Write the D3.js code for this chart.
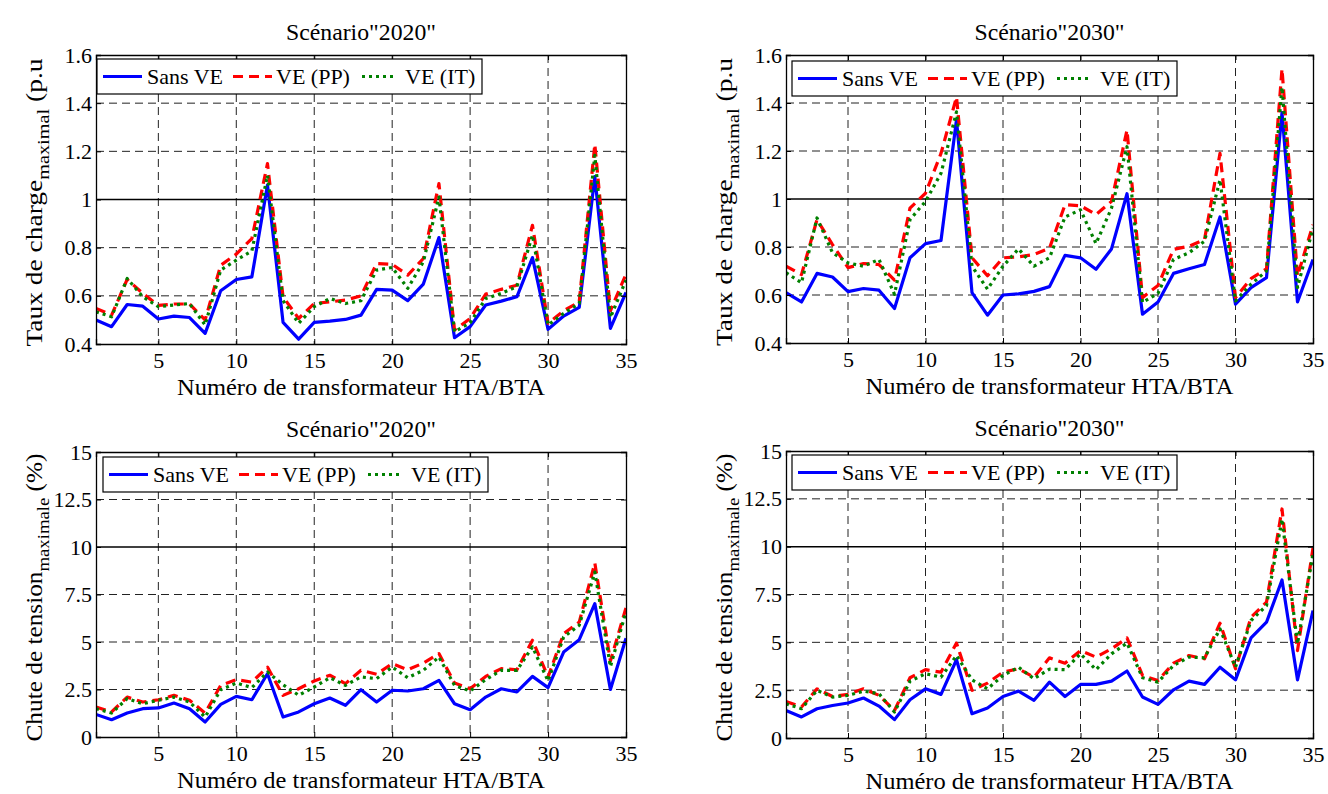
<!DOCTYPE html>
<html><head><meta charset="utf-8">
<script src="https://cdn.jsdelivr.net/npm/d3@7"></script>
<style>
body{margin:0;background:#fff;}
svg{display:block;}
text{font-family:"Liberation Serif","Times New Roman",serif;fill:#000;}
</style></head>
<body>
<svg id="c" width="1328" height="794"></svg>
<script>
// ---------- data ----------
const transformateurs = [1,2,3,4,5,6,7,8,9,10,11,12,13,14,15,16,17,18,19,20,21,22,23,24,25,26,27,28,29,30,31,32,33,34,35];
const seriesNames = ["Sans VE","VE (PP)","VE (IT)"];
const titles = ['Scénario"2020"','Scénario"2030"','Scénario"2020"','Scénario"2030"'];
const xLabel = "Numéro de transformateur HTA/BTA";
const xTicks = [5,10,15,20,25,30,35];
const chargeTicks = [0.4,0.6,0.8,1,1.2,1.4,1.6];
const chargeTickLabels = ["0.4","0.6","0.8","1","1.2","1.4","1.6"];
const chuteTicks = [0,2.5,5,7.5,10,12.5,15];
const chuteTickLabels = ["0","2.5","5","7.5","10","12.5","15"];

const charge2020_sans = [0.50,0.472,0.564,0.557,0.504,0.516,0.51,0.444,0.621,0.668,0.679,1.06,0.49,0.42,0.49,0.495,0.502,0.52,0.627,0.624,0.58,0.649,0.842,0.426,0.472,0.562,0.578,0.596,0.759,0.461,0.516,0.552,1.095,0.465,0.614];
const charge2020_pp   = [0.548,0.52,0.668,0.61,0.56,0.566,0.566,0.50,0.727,0.773,0.838,1.149,0.596,0.506,0.568,0.575,0.582,0.60,0.734,0.731,0.686,0.755,1.066,0.458,0.506,0.607,0.627,0.644,0.893,0.486,0.538,0.575,1.229,0.538,0.69];
const charge2020_it   = [0.534,0.513,0.672,0.596,0.555,0.562,0.568,0.479,0.707,0.748,0.787,1.10,0.58,0.486,0.555,0.589,0.568,0.58,0.707,0.718,0.631,0.741,1.01,0.451,0.488,0.589,0.61,0.638,0.852,0.479,0.527,0.568,1.183,0.51,0.665];

const charge2030_sans = [0.61,0.571,0.69,0.675,0.614,0.627,0.62,0.544,0.755,0.814,0.827,1.33,0.61,0.516,0.60,0.605,0.615,0.635,0.765,0.755,0.707,0.792,1.022,0.52,0.571,0.69,0.709,0.727,0.925,0.562,0.631,0.672,1.36,0.571,0.748];
const charge2030_pp   = [0.72,0.685,0.914,0.81,0.714,0.731,0.727,0.662,0.962,1.024,1.19,1.425,0.755,0.68,0.755,0.759,0.769,0.795,0.976,0.972,0.935,0.99,1.287,0.589,0.64,0.79,0.803,0.831,1.19,0.589,0.668,0.709,1.542,0.679,0.893];
const charge2030_it   = [0.693,0.651,0.921,0.776,0.734,0.72,0.748,0.603,0.914,0.99,1.107,1.363,0.72,0.624,0.72,0.792,0.72,0.755,0.925,0.955,0.814,0.962,1.218,0.569,0.607,0.748,0.776,0.824,1.08,0.575,0.645,0.70,1.466,0.631,0.879];

const chute2020_sans = [1.19,0.91,1.26,1.49,1.53,1.79,1.49,0.79,1.72,2.14,1.96,3.33,1.05,1.32,1.75,2.05,1.67,2.49,1.84,2.46,2.42,2.54,2.98,1.75,1.44,2.1,2.54,2.37,3.19,2.6,4.47,5.12,7.02,2.5,5.2];
const chute2020_pp   = [1.58,1.32,2.1,1.84,1.96,2.19,1.93,1.26,2.72,3.02,2.89,3.68,2.19,2.54,2.95,3.25,2.81,3.51,3.3,3.86,3.54,3.89,4.39,2.84,2.54,3.19,3.6,3.54,5.09,3.16,5.44,6.05,9.16,4.0,6.8];
const chute2020_it   = [1.49,1.26,2.02,1.75,1.93,2.1,1.84,1.05,2.49,2.84,2.6,3.42,2.75,2.2,2.63,3.12,2.72,3.16,3.07,3.68,3.12,3.51,4.21,2.72,2.42,3.02,3.51,3.51,4.74,2.95,5.26,5.88,8.68,3.7,6.6];

const chute2030_sans = [1.44,1.1,1.53,1.7,1.83,2.09,1.67,0.96,2.0,2.57,2.28,4.09,1.27,1.57,2.17,2.45,1.97,2.92,2.17,2.8,2.8,2.97,3.5,2.14,1.76,2.52,2.97,2.8,3.7,3.04,5.23,6.05,8.26,3.04,6.66];
const chute2030_pp   = [1.91,1.62,2.57,2.17,2.28,2.57,2.23,1.44,3.15,3.57,3.44,4.96,2.49,2.87,3.44,3.62,3.18,4.19,3.91,4.57,4.23,4.66,5.23,3.27,3.0,3.91,4.31,4.14,6.0,3.62,6.31,7.1,11.97,4.57,9.93];
const chute2030_it   = [1.79,1.53,2.49,2.14,2.23,2.45,2.31,1.36,2.97,3.36,3.18,4.31,3.04,2.57,3.27,3.7,3.1,3.6,3.57,4.4,3.57,4.4,4.96,3.15,2.92,3.79,4.23,4.19,5.7,3.7,6.14,6.92,11.44,4.92,9.62];

// ---------- layout ----------
const svg = d3.select("#c");
const colors = ["#0000ff","#ff0000","#008000"];
const dashes = [null,"10,6","3,4"];

const panels = [
  {x0:96, x1:626, y0:55, y1:344, dom:[0.4,1.6], ticks:chargeTicks, labels:chargeTickLabels, ref:1,
   data:[charge2020_sans,charge2020_pp,charge2020_it], title:titles[0], ylab:["Taux de charge","maximal"," (p.u"], leg:[97,59]},
  {x0:786, x1:1313, y0:55, y1:343, dom:[0.4,1.6], ticks:chargeTicks, labels:chargeTickLabels, ref:1,
   data:[charge2030_sans,charge2030_pp,charge2030_it], title:titles[1], ylab:["Taux de charge","maximal"," (p.u"], leg:[792,61]},
  {x0:96, x1:626, y0:452, y1:737, dom:[0,15], ticks:chuteTicks, labels:chuteTickLabels, ref:10,
   data:[chute2020_sans,chute2020_pp,chute2020_it], title:titles[2], ylab:["Chute de tension","maximale"," (%)"], leg:[103,457]},
  {x0:786, x1:1313, y0:451, y1:738, dom:[0,15], ticks:chuteTicks, labels:chuteTickLabels, ref:10,
   data:[chute2030_sans,chute2030_pp,chute2030_it], title:titles[3], ylab:["Chute de tension","maximale"," (%)"], leg:[792,455]}
];

panels.forEach((p,pi)=>{
  const g = svg.append("g");
  const x = d3.scaleLinear().domain([1,35]).range([p.x0,p.x1]);
  const y = d3.scaleLinear().domain(p.dom).range([p.y1,p.y0]);
  const clipId = "clip"+pi;
  svg.append("clipPath").attr("id",clipId).append("rect")
    .attr("x",p.x0).attr("y",p.y0).attr("width",p.x1-p.x0).attr("height",p.y1-p.y0);

  // grid
  const grid = g.append("g").attr("stroke","#222").attr("stroke-width",1).attr("stroke-dasharray","8,5");
  xTicks.filter(t=>t<35).forEach(t=>{
    grid.append("line").attr("x1",x(t)).attr("x2",x(t)).attr("y1",p.y0).attr("y2",p.y1);
  });
  p.ticks.filter((t,i)=>i>0 && i<p.ticks.length-1 && t!==p.ref).forEach(t=>{
    grid.append("line").attr("x1",p.x0).attr("x2",p.x1).attr("y1",y(t)).attr("y2",y(t));
  });
  // reference line
  g.append("line").attr("x1",p.x0).attr("x2",p.x1).attr("y1",y(p.ref)).attr("y2",y(p.ref))
    .attr("stroke","#000").attr("stroke-width",1.5);

  // series
  const line = d3.line().x((d,i)=>x(transformateurs[i])).y(d=>y(d));
  p.data.forEach((arr,si)=>{
    g.append("path").datum(arr).attr("d",line).attr("fill","none")
      .attr("clip-path","url(#"+clipId+")")
      .attr("stroke",colors[si]).attr("stroke-width",3.2)
      .attr("stroke-linejoin","round")
      .attr("stroke-dasharray",dashes[si]);
  });

  // axes (inward ticks, MATLAB box)
  const ax = g.append("g").attr("transform",`translate(0,${p.y1})`)
    .call(d3.axisBottom(x).tickValues(xTicks).tickSize(-5).tickPadding(9).tickFormat(d3.format("d")));
  const axT = g.append("g").attr("transform",`translate(0,${p.y0})`)
    .call(d3.axisTop(x).tickValues(xTicks).tickSize(-5).tickFormat(""));
  const ay = g.append("g").attr("transform",`translate(${p.x0},0)`)
    .call(d3.axisLeft(y).tickValues(p.ticks).tickSize(-5).tickPadding(4).tickFormat((d,i)=>p.labels[i]));
  const ayR = g.append("g").attr("transform",`translate(${p.x1},0)`)
    .call(d3.axisRight(y).tickValues(p.ticks).tickSize(-5).tickFormat(""));
  [ax,axT,ay,ayR].forEach(a=>{
    a.select(".domain").attr("stroke","#000").attr("stroke-width",1.3);
    a.selectAll(".tick line").attr("stroke","#000").attr("stroke-width",1);
    a.selectAll("text").style("font-family","'Liberation Serif',serif").style("font-size","22px").attr("fill","#000");
  });
  ax.selectAll("text").attr("dy","0.7em");

  // title
  g.append("text").attr("x",(p.x0+p.x1)/2).attr("y",p.y0-15).attr("text-anchor","middle")
    .attr("textLength",150).attr("lengthAdjust","spacingAndGlyphs")
    .style("font-size","23px").text(p.title);
  // x label
  g.append("text").attr("x",(p.x0+p.x1)/2).attr("y",p.y1+51).attr("text-anchor","middle")
    .attr("textLength",368).attr("lengthAdjust","spacingAndGlyphs")
    .style("font-size","23px").text(xLabel);
  // y label
  const yl = g.append("text").attr("transform",`translate(${p.x0-54},${(p.y0+p.y1)/2+3}) rotate(-90)`)
    .attr("text-anchor","middle").style("font-size","23px")
    .attr("textLength",288).attr("lengthAdjust","spacingAndGlyphs");
  yl.append("tspan").text(p.ylab[0]);
  yl.append("tspan").attr("dy",7).style("font-size","17px").text(p.ylab[1]);
  yl.append("tspan").attr("dy",-7).text(p.ylab[2]);

  // legend
  const [lx,ly] = p.leg;
  const lg = g.append("g").attr("transform",`translate(${lx},${ly})`);
  lg.append("rect").attr("width",385).attr("height",35).attr("fill","#fff").attr("stroke","#000").attr("stroke-width",1.2);
  const entries = [{x1:6,x2:45,tx:50},{x1:136,x2:175,tx:179},{x1:265,x2:300,tx:308}];
  entries.forEach((e,i)=>{
    lg.append("line").attr("x1",e.x1).attr("x2",e.x2).attr("y1",17.5).attr("y2",17.5)
      .attr("stroke",colors[i]).attr("stroke-width",3.2).attr("stroke-dasharray",dashes[i]);
    lg.append("text").attr("x",e.tx).attr("y",25).style("font-size","22px").text(seriesNames[i]);
  });
});
</script>
</body></html>
